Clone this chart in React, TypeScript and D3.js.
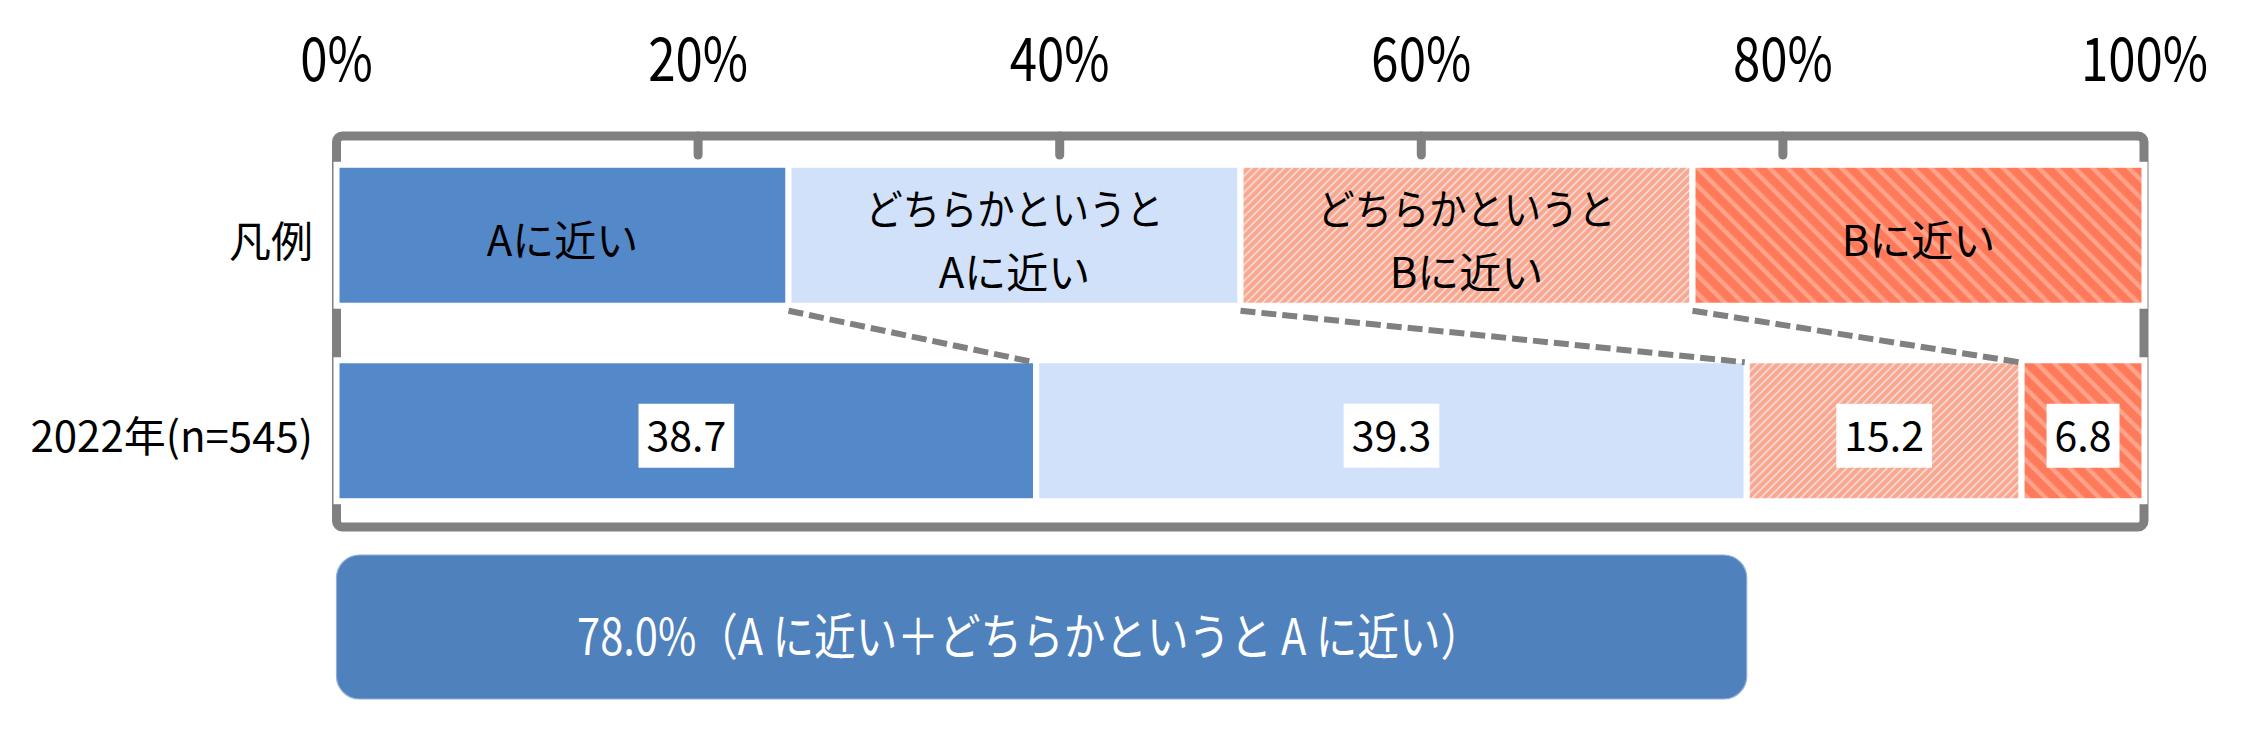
import React, { useEffect, useRef } from "react";
import * as d3 from "d3";

// ---- data ----
const categories = ["凡例", "2022年(n=545)"];
const seriesKeys = ["a", "ma", "mb", "b"];
const legendLabels = [["Aに近い"], ["どちらかというと", "Aに近い"], ["どちらかというと", "Bに近い"], ["Bに近い"]];
const legendValues = [25, 25, 25, 25];
const values2022 = [38.7, 39.3, 15.2, 6.8];
const xTicks = [0, 20, 40, 60, 80, 100];
const summaryLabel = "78.0%（A に近い＋どちらかというと A に近い）";

const W = 2257;
const H = 730;
const FONT = "'Noto Sans CJK JP', 'Noto Sans', sans-serif";

export default function App() {
  const ref = useRef<SVGSVGElement>(null);

  useEffect(() => {
    const svg = d3.select(ref.current);
    svg.selectAll("*").remove();

    const x = d3.scaleLinear().domain([0, 100]).range([336.5, 2144.5]);
    const y = d3.scaleBand<string>().domain(categories).range([137.5, 528.5]).paddingInner(0.279).paddingOuter(0.1395);
    const bw = y.bandwidth();

    const defs = svg.append("defs");
    const p3 = defs.append("pattern").attr("id", "pat3").attr("patternUnits", "userSpaceOnUse")
      .attr("width", 5.7).attr("height", 5.7).attr("patternTransform", "rotate(45)");
    p3.append("rect").attr("width", 5.7).attr("height", 5.7).attr("fill", "#FCA68E");
    p3.append("rect").attr("width", 1.9).attr("height", 5.7).attr("fill", "#EED8D3");
    const p4 = defs.append("pattern").attr("id", "pat4").attr("patternUnits", "userSpaceOnUse")
      .attr("width", 12.7).attr("height", 12.7).attr("patternTransform", "rotate(-45)");
    p4.append("rect").attr("width", 12.7).attr("height", 12.7).attr("fill", "#FF7A5A");
    p4.append("rect").attr("width", 4.4).attr("height", 12.7).attr("fill", "#FFA38A");

    const fills: Record<string, string> = { a: "#5389C8", ma: "#D2E1FA", mb: "url(#pat3)", b: "url(#pat4)" };

    // frame
    svg.append("rect").attr("x", 336.5).attr("y", 136).attr("width", 2144 - 336.5).attr("height", 391)
      .attr("rx", 6).attr("fill", "none").attr("stroke", "#808080").attr("stroke-width", 9);
    xTicks.filter((t) => t > 0 && t < 100).forEach((t) => {
      svg.append("line").attr("x1", x(t)).attr("x2", x(t)).attr("y1", 136).attr("y2", 155)
        .attr("stroke", "#808080").attr("stroke-width", 9).attr("stroke-linecap", "round");
    });

    // tick labels
    xTicks.forEach((t) => {
      svg.append("text").attr("transform", `translate(${x(t)},81) scale(0.82,1)`)
        .attr("text-anchor", "middle").attr("font-family", FONT).attr("font-size", 60).attr("fill", "#000")
        .text(`${t}%`);
    });

    // category labels
    categories.forEach((c) => {
      svg.append("text").attr("x", 313).attr("y", (y(c) as number) + bw / 2 + 3)
        .attr("text-anchor", "end").attr("dominant-baseline", "central")
        .attr("font-family", FONT).attr("font-size", 42).attr("fill", "#000").text(c);
    });

    const stack = (vals: number[]) => {
      let c = 0;
      return vals.map((v) => { const s = c; c += v; return [s, c]; });
    };
    const legendStack = stack(legendValues);
    const dataStack = stack(values2022);

    // bars
    const drawBar = (cat: string, st: number[][]) => {
      st.forEach(([s, e], i) => {
        svg.append("rect").attr("x", x(s)).attr("width", x(e) - x(s))
          .attr("y", y(cat) as number).attr("height", bw)
          .attr("fill", fills[seriesKeys[i]]).attr("stroke", "#fff").attr("stroke-width", 6);
      });
    };
    drawBar(categories[0], legendStack);
    drawBar(categories[1], dataStack);

    // series connector lines
    for (let i = 0; i < 3; i++) {
      svg.append("line")
        .attr("x1", x(legendStack[i][1])).attr("y1", (y(categories[0]) as number) + bw + 5)
        .attr("x2", x(dataStack[i][1]) - 2).attr("y2", (y(categories[1]) as number) + 2)
        .attr("stroke", "#808080").attr("stroke-width", 6).attr("stroke-dasharray", "15 6");
    }

    // legend labels
    legendStack.forEach(([s, e], i) => {
      const cx = (x(s) + x(e)) / 2;
      const cy = (y(categories[0]) as number) + bw / 2;
      const lines = legendLabels[i];
      lines.forEach((ln, j) => {
        const off = lines.length === 1 ? 2 : (j === 0 ? -29 : 34);
        const t = svg.append("text").attr("x", cx).attr("y", cy + off)
          .attr("text-anchor", "middle").attr("dominant-baseline", "central")
          .attr("font-family", FONT).attr("font-size", 42).attr("fill", "#000").text(ln);
        if (ln.length >= 8) t.attr("textLength", 298).attr("lengthAdjust", "spacingAndGlyphs");
      });
    });

    // value labels
    dataStack.forEach(([s, e], i) => {
      const cx = (x(s) + x(e)) / 2;
      const cy = (y(categories[1]) as number) + bw / 2;
      const g = svg.append("g");
      const rect = g.append("rect").attr("fill", "#fff");
      const t = g.append("text").attr("x", cx).attr("y", cy + 2)
        .attr("text-anchor", "middle").attr("dominant-baseline", "central")
        .attr("font-family", FONT).attr("font-size", 41).attr("fill", "#000")
        .text(values2022[i].toFixed(1));
      const w = (t.node() as SVGTextElement).getComputedTextLength();
      rect.attr("x", cx - w / 2 - 8).attr("width", w + 16).attr("y", cy + 5 - 32).attr("height", 64);
    });

    // summary box
    const sumEnd = values2022[0] + values2022[1];
    svg.append("rect").attr("x", x(0)).attr("width", x(sumEnd) - x(0)).attr("y", 555).attr("height", 144)
      .attr("rx", 23).attr("fill", "#4F81BD").attr("stroke", "#8FAEDA").attr("stroke-width", 1.2);
    svg.append("text").attr("x", (x(0) + x(sumEnd)) / 2 - 12).attr("y", 633)
      .attr("text-anchor", "middle").attr("dominant-baseline", "central")
      .attr("font-family", FONT).attr("font-size", 50).attr("fill", "#fff")
      .attr("textLength", 905).attr("lengthAdjust", "spacingAndGlyphs")
      .text(summaryLabel);
  }, []);

  return (
    <svg ref={ref} width={W} height={H} viewBox={`0 0 ${W} ${H}`}
      style={{ position: "absolute", left: 0, top: 0, display: "block", background: "#fff" }} />
  );
}
